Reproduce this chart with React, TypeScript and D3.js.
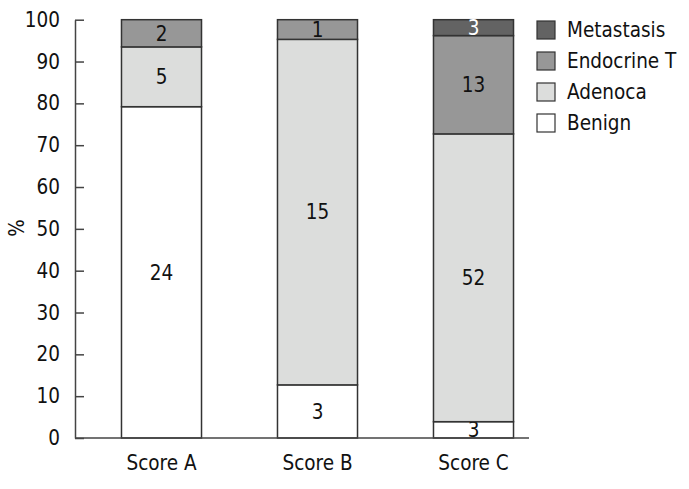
import React, { useRef, useEffect } from 'react';
import * as d3 from 'd3';

const categories = ['Score A', 'Score B', 'Score C'];
const seriesNames = ['Benign', 'Adenoca', 'Endocrine T', 'Metastasis'];
// percentage heights
const benignPct = [79.2, 12.7, 3.9];
const adenocaPct = [14.3, 82.6, 68.8];
const endocrinePct = [6.5, 4.7, 23.5];
const metastasisPct = [0, 0, 3.8];
// counts printed inside the segments
const benignN = [24, 3, 3];
const adenocaN = [5, 15, 52];
const endocrineN = [2, 1, 13];
const metastasisN = [0, 0, 3];
const yTicks = [0, 10, 20, 30, 40, 50, 60, 70, 80, 90, 100];

const fills = ['#ffffff', '#dcdddc', '#979797', '#636363'];
const labelColors = ['#111', '#111', '#111', '#ffffff'];
const FONT = '"DejaVu Sans Condensed", "DejaVu Sans", sans-serif';
const FS = 20.5;

export default function App() {
  const svgRef = useRef<SVGSVGElement>(null);

  useEffect(() => {
    const svg = d3.select(svgRef.current);
    svg.selectAll('*').remove();

    const pcts = [benignPct, adenocaPct, endocrinePct, metastasisPct];
    const counts = [benignN, adenocaN, endocrineN, metastasisN];
    const table = categories.map((c, i) => {
      const row: any = { cat: c };
      seriesNames.forEach((s, j) => { row[s] = pcts[j][i]; });
      return row;
    });
    const stacked = d3.stack().keys(seriesNames)(table);

    const x = d3.scaleBand().domain(categories).range([83.5, 551.5]).paddingInner(0.487).paddingOuter(0.2435);
    const y = d3.scaleLinear().domain([0, 100]).range([438, 19.7]);

    // y axis, ticks pointing inward
    const yAxis = svg.append('g')
      .attr('transform', 'translate(75,0)')
      .call(d3.axisLeft(y).tickValues(yTicks).tickSizeInner(-9).tickSizeOuter(0).tickPadding(15));
    yAxis.select('.domain').attr('stroke', '#444').attr('stroke-width', 1.5);
    yAxis.selectAll('.tick line').attr('stroke', '#444').attr('stroke-width', 1.5);
    yAxis.selectAll('.tick text')
      .attr('font-family', FONT).attr('font-size', FS).attr('fill', '#111');

    svg.append('text')
      .attr('transform', 'translate(24,228) rotate(-90)')
      .attr('text-anchor', 'middle')
      .attr('font-family', FONT).attr('font-size', FS).attr('fill', '#111')
      .text('%');

    const groups = svg.append('g').selectAll('g')
      .data(stacked).enter().append('g');

    groups.each(function (layer, j) {
      const g = d3.select(this);
      g.selectAll('rect')
        .data(layer.filter(d => d[1] - d[0] > 0))
        .enter().append('rect')
        .attr('x', d => x(d.data.cat as string)!)
        .attr('width', x.bandwidth())
        .attr('y', d => y(d[1]))
        .attr('height', d => y(d[0]) - y(d[1]))
        .attr('fill', fills[j])
        .attr('stroke', '#333')
        .attr('stroke-width', 1.5);
    });

    groups.each(function (layer, j) {
      const g = d3.select(this);
      g.selectAll('text')
        .data(layer.map((d, i) => ({ d, n: counts[j][i] })).filter(o => o.n > 0))
        .enter().append('text')
        .attr('x', o => x(o.d.data.cat as string)! + x.bandwidth() / 2)
        .attr('y', o => (y(o.d[0]) + y(o.d[1])) / 2)
        .attr('dy', '0.36em')
        .attr('text-anchor', 'middle')
        .attr('font-family', FONT).attr('font-size', FS)
        .attr('fill', labelColors[j])
        .text(o => String(o.n));
    });

    // x axis line and category labels
    svg.append('line')
      .attr('x1', 75).attr('x2', 529).attr('y1', 438).attr('y2', 438)
      .attr('stroke', '#444').attr('stroke-width', 1.5);
    svg.append('g').selectAll('text')
      .data(categories).enter().append('text')
      .attr('x', d => x(d)! + x.bandwidth() / 2)
      .attr('y', 470)
      .attr('text-anchor', 'middle')
      .attr('font-family', FONT).attr('font-size', FS).attr('fill', '#111')
      .text(d => d);

    // legend, top entry is the top of the stack
    const legendOrder = seriesNames.map((s, j) => ({ s, j })).reverse();
    const leg = svg.append('g').selectAll('g')
      .data(legendOrder).enter().append('g')
      .attr('transform', (d, i) => `translate(537,${21 + i * 31})`);
    leg.append('rect')
      .attr('width', 18).attr('height', 18)
      .attr('fill', d => fills[d.j])
      .attr('stroke', '#333').attr('stroke-width', 1.2);
    leg.append('text')
      .attr('x', 30).attr('y', 9).attr('dy', '0.36em')
      .attr('font-family', FONT).attr('font-size', FS).attr('fill', '#111')
      .text(d => d.s);
  }, []);

  return (
    <svg ref={svgRef} width={689} height={489}
      style={{ position: 'absolute', left: 0, top: 0, background: '#fff' }} />
  );
}
